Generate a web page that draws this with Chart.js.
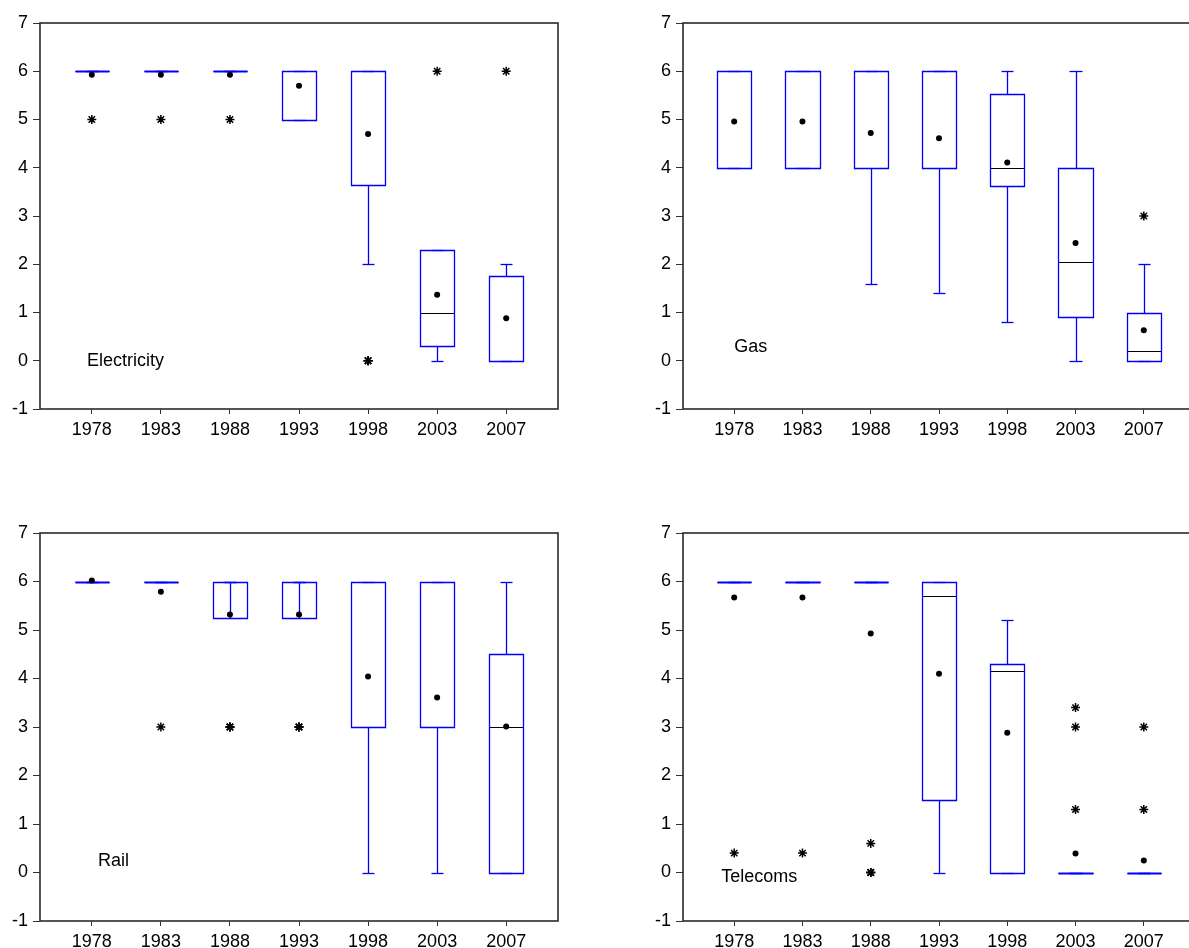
<!DOCTYPE html>
<html lang="en">
<head>
<meta charset="utf-8">
<title>Regulation indices by sector</title>
<script src="https://cdn.jsdelivr.net/npm/chart.js@4.4.1/dist/chart.umd.min.js"></script>
<style>
  html, body { margin: 0; padding: 0; background: #fff; overflow: hidden; width: 1189px; height: 948px; }
  canvas { position: absolute; }
</style>
</head>
<body>
<canvas id="elec" width="595" height="474" style="left:0px;top:0px"></canvas>
<canvas id="gas" width="558" height="474" style="left:643px;top:0px"></canvas>
<canvas id="rail" width="595" height="438" style="left:0px;top:510px"></canvas>
<canvas id="tel" width="558" height="438" style="left:643px;top:510px"></canvas>
<script>
const years = ['1978', '1983', '1988', '1993', '1998', '2003', '2007'];
const yTicks = [-1, 0, 1, 2, 3, 4, 5, 6, 7];

// Electricity
const elecLo = [6, 6, 6, 5, 2, 0, 0];
const elecQ1 = [6, 6, 6, 5, 3.65, 0.3, 0];
const elecMed = [6, 6, 6, 6, 6, 1, 0];
const elecQ3 = [6, 6, 6, 6, 6, 2.3, 1.75];
const elecHi = [6, 6, 6, 6, 6, 2.3, 2];
const elecMean = [5.93, 5.93, 5.93, 5.7, 4.7, 1.37, 0.88];
const elecOut = [[5], [5], [5], [], [0, 0, 0], [6], [6]];

// Gas
const gasLo = [4, 4, 1.6, 1.4, 0.8, 0, 0];
const gasQ1 = [4, 4, 4, 4, 3.62, 0.9, 0];
const gasMed = [4, 4, 4, 4, 4, 2.05, 0.2];
const gasQ3 = [6, 6, 6, 6, 5.52, 4, 1];
const gasHi = [6, 6, 6, 6, 6, 6, 2];
const gasMean = [4.96, 4.96, 4.72, 4.61, 4.11, 2.44, 0.63];
const gasOut = [[], [], [], [], [], [], [3]];

// Rail
const railLo = [6, 6, 6, 6, 0, 0, 0];
const railQ1 = [6, 6, 5.25, 5.25, 3, 3, 0];
const railMed = [6, 6, 6, 6, 3, 3, 3];
const railQ3 = [6, 6, 6, 6, 6, 6, 4.5];
const railHi = [6, 6, 6, 6, 6, 6, 6];
const railMean = [6.02, 5.79, 5.32, 5.32, 4.04, 3.61, 3.01];
const railOut = [[], [3], [3, 3, 3], [3, 3, 3], [], [], []];

// Telecoms
const telLo = [6, 6, 6, 0, 0, 0, 0];
const telQ1 = [6, 6, 6, 1.5, 0, 0, 0];
const telMed = [6, 6, 6, 5.7, 4.15, 0, 0];
const telQ3 = [6, 6, 6, 6, 4.3, 0, 0];
const telHi = [6, 6, 6, 6, 5.2, 0, 0];
const telMean = [5.67, 5.67, 4.93, 4.1, 2.88, 0.39, 0.25];
const telOut = [[0.4], [0.4], [0.6, 0, 0, 0], [], [], [3.4, 3, 1.3], [3, 1.3]];

Chart.defaults.font.family = '"Liberation Sans", Arial, sans-serif';
Chart.defaults.font.size = 18;
Chart.defaults.color = '#000';

const BLUE = '#0000ff';

function boxPlugin(s, label, labelAt) {
    return {
        id: 'boxes',
        beforeDatasetsDraw(chart) {
            const ctx = chart.ctx, x = chart.scales.x, y = chart.scales.y;
            const px = v => Math.round(v) + 0.5;
            const seg = (x1, y1, x2, y2) => { ctx.beginPath(); ctx.moveTo(x1, y1); ctx.lineTo(x2, y2); ctx.stroke(); };
            ctx.save();
            for (let i = 0; i < years.length; i++) {
                const xl = px(x.getPixelForValue(i - 0.25)), xr = px(x.getPixelForValue(i + 0.25));
                const xc = px(x.getPixelForValue(i));
                const cl = px(x.getPixelForValue(i - 0.09)), cr = px(x.getPixelForValue(i + 0.09));
                const yq1 = px(y.getPixelForValue(s.q1[i])), yq3 = px(y.getPixelForValue(s.q3[i]));
                const ylo = px(y.getPixelForValue(s.lo[i])), yhi = px(y.getPixelForValue(s.hi[i]));
                const ym = px(y.getPixelForValue(s.med[i]));
                // median
                ctx.strokeStyle = '#000';
                ctx.lineWidth = 1;
                seg(xl, ym, xr, ym);
                // whiskers and caps
                ctx.strokeStyle = BLUE;
                ctx.lineWidth = 1.3;
                seg(xc, yq1, xc, ylo); seg(cl, ylo, cr, ylo);
                seg(xc, yq3, xc, yhi); seg(cl, yhi, cr, yhi);
                // box
                if (yq1 === yq3) {
                    ctx.lineWidth = 2.2;
                    seg(xl, yq1, xr, yq1);
                } else {
                    ctx.beginPath();
                    ctx.rect(xl, yq3, xr - xl, yq1 - yq3);
                    ctx.stroke();
                }
            }
            ctx.restore();
        },
        afterDraw(chart) {
            const ctx = chart.ctx, a = chart.chartArea;
            const x = chart.scales.x, y = chart.scales.y;
            ctx.save();
            ctx.strokeStyle = '#2a2a2a';
            ctx.lineWidth = 1.6;
            ctx.strokeRect(a.left, a.top, a.right - a.left, a.bottom - a.top);
            ctx.fillStyle = '#000';
            ctx.font = '18px "Liberation Sans", Arial, sans-serif';
            ctx.textAlign = 'left';
            ctx.textBaseline = 'middle';
            ctx.fillText(label, x.getPixelForValue(labelAt[0]), y.getPixelForValue(labelAt[1]));
            ctx.restore();
        }
    };
}

function makeChart(id, s, label, labelAt, pad, xHeight) {
    const meanPts = s.mean.map((v, i) => ({ x: i, y: v }));
    const outPts = [];
    s.out.forEach((arr, i) => arr.forEach(v => outPts.push({ x: i, y: v })));
    return new Chart(document.getElementById(id), {
        type: 'scatter',
        data: {
            datasets: [
                {
                    label: 'Mean',
                    data: meanPts,
                    pointStyle: 'circle',
                    pointRadius: 3,
                    backgroundColor: '#000',
                    borderWidth: 0
                },
                {
                    label: 'Outliers',
                    data: outPts,
                    pointStyle: 'star',
                    pointRadius: 4.5,
                    borderColor: '#000',
                    borderWidth: 1.5
                }
            ]
        },
        options: {
            responsive: false,
            animation: false,
            layout: { padding: pad },
            plugins: { legend: { display: false }, tooltip: { enabled: false } },
            scales: {
                x: {
                    type: 'linear',
                    min: -0.75,
                    max: 6.75,
                    afterBuildTicks: axis => { axis.ticks = years.map((_, i) => ({ value: i })); },
                    afterFit: axis => { axis.height = xHeight; },
                    ticks: { callback: v => years[v], padding: 5, maxRotation: 0, autoSkip: false },
                    grid: { drawOnChartArea: false, tickLength: 5, color: '#333' },
                    border: { display: false }
                },
                y: {
                    min: -1,
                    max: 7,
                    afterBuildTicks: axis => { axis.ticks = yTicks.map(v => ({ value: v })); },
                    afterFit: axis => { axis.width = 40; },
                    ticks: { padding: 5 },
                    grid: { drawOnChartArea: false, tickLength: 7, color: '#333' },
                    border: { display: false }
                }
            }
        },
        plugins: [boxPlugin(s, label, labelAt)]
    });
}

makeChart('elec',
    { lo: elecLo, q1: elecQ1, med: elecMed, q3: elecQ3, hi: elecHi, mean: elecMean, out: elecOut },
    'Electricity', [-0.07, 0], { top: 23, right: 37, bottom: 35, left: 0 }, 30);
makeChart('gas',
    { lo: gasLo, q1: gasQ1, med: gasMed, q3: gasQ3, hi: gasHi, mean: gasMean, out: gasOut },
    'Gas', [0, 0.29], { top: 23, right: 0, bottom: 35, left: 0 }, 30);
makeChart('rail',
    { lo: railLo, q1: railQ1, med: railMed, q3: railQ3, hi: railHi, mean: railMean, out: railOut },
    'Rail', [0.09, 0.23], { top: 23, right: 37, bottom: 0, left: 0 }, 27);
makeChart('tel',
    { lo: telLo, q1: telQ1, med: telMed, q3: telQ3, hi: telHi, mean: telMean, out: telOut },
    'Telecoms', [-0.19, -0.1], { top: 23, right: 0, bottom: 0, left: 0 }, 27);
</script>
</body>
</html>
